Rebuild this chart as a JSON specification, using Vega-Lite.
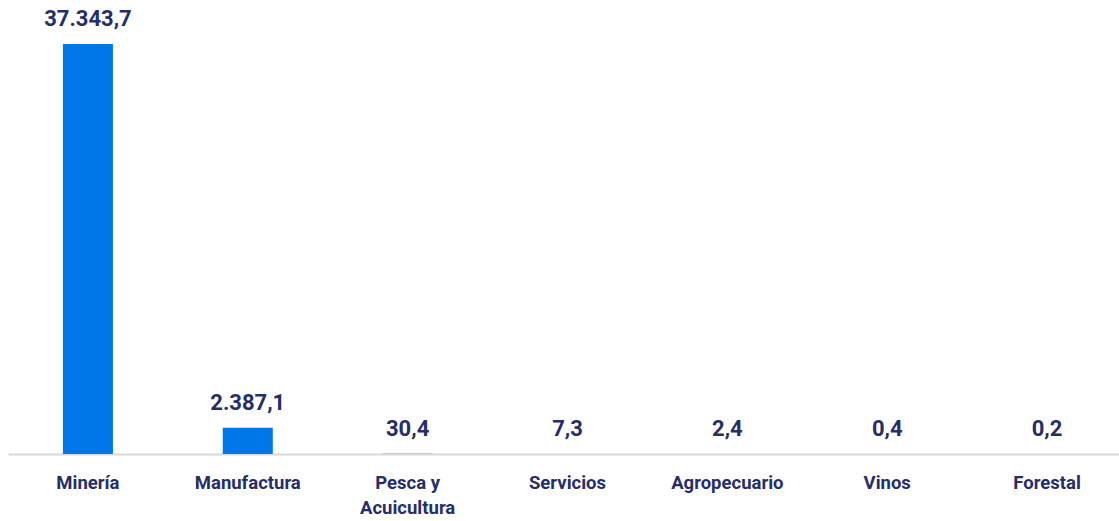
{
  "$schema": "https://vega.github.io/schema/vega-lite/v6.json",
  "width": 1119,
  "height": 410,
  "autosize": {"type": "none"},
  "padding": {"left": 8, "top": 44, "right": 0, "bottom": 67},
  "background": "white",
  "config": {
    "view": {"stroke": null},
    "locale": {"number": {"decimal": ",", "thousands": ".", "grouping": [3], "currency": ["$", ""]}}
  },
  "data": {
    "values": [
      {"sector": "Minería", "valor": 37343.7},
      {"sector": "Manufactura", "valor": 2387.1},
      {"sector": "Pesca y Acuicultura", "valor": 30.4},
      {"sector": "Servicios", "valor": 7.3},
      {"sector": "Agropecuario", "valor": 2.4},
      {"sector": "Vinos", "valor": 0.4},
      {"sector": "Forestal", "valor": 0.2}
    ]
  },
  "encoding": {
    "x": {
      "field": "sector",
      "type": "nominal",
      "sort": null,
      "scale": {"paddingInner": 0.687, "paddingOuter": 0.3435},
      "axis": {
        "title": null,
        "labelAngle": 0,
        "labelFont": "Roboto",
        "labelFontWeight": "bold",
        "labelFontSize": 18.5,
        "labelColor": "#262D6B",
        "labelPadding": 19,
        "labelLineHeight": 25,
        "labelExpr": "datum.label == 'Pesca y Acuicultura' ? ['Pesca y', 'Acuicultura'] : datum.label",
        "ticks": false,
        "domainColor": "#D9D9D9",
        "domainWidth": 2
      }
    },
    "y": {
      "field": "valor",
      "type": "quantitative",
      "scale": {"domain": [0, 37343.7], "nice": false},
      "axis": null
    }
  },
  "layer": [
    {"mark": {"type": "bar", "color": "#0077E6"}},
    {
      "mark": {"type": "text", "baseline": "bottom", "dy": -13, "font": "Roboto", "fontWeight": "bold", "fontSize": 22, "color": "#262D6B"},
      "encoding": {"text": {"field": "valor", "type": "quantitative", "format": ",.1f"}}
    }
  ]
}
